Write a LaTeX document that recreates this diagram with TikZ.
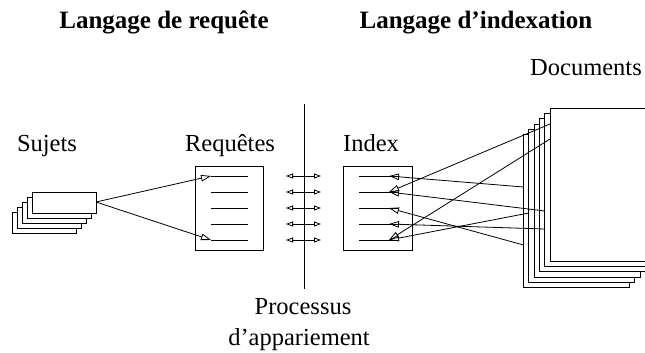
\documentclass[tikz,border=0pt]{standalone}
\usepackage{fontspec}
\setmainfont{Liberation Serif}
\usetikzlibrary{arrows.meta}
\tikzset{
  lbl/.style={inner sep=0pt, anchor=base, font=\fontsize{24.5}{26}\selectfont},
  head/.style={inner sep=0pt, anchor=base, font=\fontsize{25}{27}\selectfont\bfseries},
  sheet/.style={draw=black, fill=white, line width=0.8pt},
  boxx/.style={draw=black, line width=0.8pt},
  rule/.style={line width=0.8pt},
  arr/.style={line width=0.8pt, -{Triangle[open, length=10pt, width=6.5pt]}},
  darr/.style={line width=0.8pt, {Triangle[open, length=7pt, width=5pt]}-{Triangle[open, length=7pt, width=5pt]}},
}
\begin{document}
\begin{tikzpicture}[x=1pt, y=-1pt]
\clip (0,0) rectangle (645,353);
\fill[white] (0,0) rectangle (645,353);

% headings
\node[head] (h1) at (164,29) {Langage de requête};
\node[head] (h2) at (476,29) {Langage d’indexation};

% labels
\node[lbl] (lsuj) at (47,151) {Sujets};
\node[lbl] (lreq) at (230,151) {Requêtes};
\node[lbl] (lidx) at (371,151) {Index};
\node[lbl] (ldoc) at (586,75) {Documents};
\node[lbl] (lpro) at (303,314) {Processus};
\node[lbl] (lapp) at (299,345) {d’appariement};

% vertical separator
\coordinate (vtop) at (304,104);
\coordinate (vbot) at (304,289);
\draw[rule] (vtop) -- (vbot);

% Sujets stack
\foreach \i in {4,3,2,1,0}{
  \draw[sheet] ({32-5*\i},{192+5*\i}) rectangle ({96-5*\i},{213+5*\i});
}
\coordinate (suj) at (96,202);

% Requetes box
\node[boxx, minimum width=68pt, minimum height=84pt, inner sep=0pt] (req) at (229,208) {};
% Index box
\node[boxx, minimum width=69pt, minimum height=84pt, inner sep=0pt] (idx) at (377.5,208) {};

\foreach \k/\y in {1/176,2/192,3/208,4/224,5/240}{
  \coordinate (r\k) at (211,\y);
  \coordinate (re\k) at (248,\y);
  \draw[rule] (r\k) -- (re\k);
  \coordinate (i\k) at (359,\y);
  \coordinate (ie\k) at (398,\y);
  \draw[rule] (i\k) -- (ie\k);
  \coordinate (t\k) at (389,\y);
  \coordinate (dl\k) at (286,\y);
  \coordinate (dr\k) at (321,\y);
  \draw[darr] (dl\k) -- (dr\k);
}

% Sujets arrows
\draw[arr] (suj) -- (r1);
\draw[arr] (suj) -- (r5);

% Documents stack
\foreach \i in {5,4,3,2,1,0}{
  \draw[sheet] ({550-5.3*\i},{108+5.3*\i}) rectangle ({656-5.3*\i},{261+5.3*\i});
}
\coordinate (d1) at (523.5,187);
\coordinate (d2) at (550,124);
\coordinate (d3) at (550,139);
\coordinate (d4) at (544.7,211);
\coordinate (d5) at (523.5,245);
\coordinate (d6) at (544.7,229);
\coordinate (d7) at (528.8,213);

\draw[arr] (d1) -- (t1);
\draw[arr] (d2) -- (t2);
\draw[arr] (d3) -- (t5);
\draw[arr] (d4) -- (t2);
\draw[arr] (d5) -- (t3);
\draw[arr] (d6) -- (t4);
\draw[arr] (d7) -- (t5);
\end{tikzpicture}
\end{document}
